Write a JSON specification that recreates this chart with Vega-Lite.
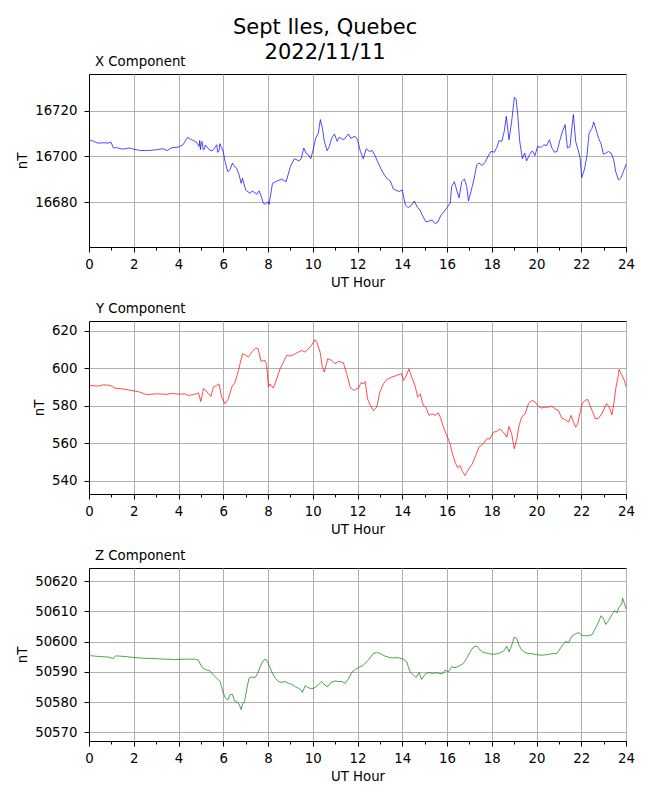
{
  "$schema": "https://vega.github.io/schema/vega-lite/v6.json",
  "padding": {"left": 15, "top": 17, "right": 5, "bottom": 5},
  "title": {
    "text": ["Sept Iles, Quebec", "2022/11/11"],
    "fontSize": 21,
    "lineHeight": 25,
    "fontWeight": "normal",
    "anchor": "middle",
    "frame": "bounds",
    "dx": 0,
    "offset": -9,
    "color": "black"
  },
  "config": {
    "font": "DejaVu Sans",
    "view": {"stroke": "black", "strokeWidth": 1},
    "axis": {
      "domainColor": "black",
      "tickColor": "black",
      "labelColor": "black",
      "titleColor": "black",
      "labelFontSize": 13.3,
      "titleFontSize": 13.3,
      "titleFontWeight": "normal",
      "gridColor": "#b0b0b0",
      "gridWidth": 1,
      "tickSize": 5
    },
    "axisX": {"labelPadding": 5, "titlePadding": 5},
    "axisY": {"labelPadding": 7, "titlePadding": 5}
  },
  "datasets": {
    "xc": [
      {"h": 0, "v": 16707.3}, {"h": 0.22, "v": 16706.6}, {"h": 0.4, "v": 16705.8}, {"h": 0.67, "v": 16706.0},
      {"h": 0.86, "v": 16705.8}, {"h": 0.98, "v": 16706.3}, {"h": 1.09, "v": 16703.7}, {"h": 1.21, "v": 16703.9},
      {"h": 1.5, "v": 16703.2}, {"h": 1.8, "v": 16703.7}, {"h": 2.0, "v": 16703.2}, {"h": 2.3, "v": 16702.6},
      {"h": 2.59, "v": 16702.6}, {"h": 3.0, "v": 16702.9}, {"h": 3.29, "v": 16703.4}, {"h": 3.49, "v": 16702.6},
      {"h": 3.7, "v": 16703.8}, {"h": 4.0, "v": 16704.1}, {"h": 4.2, "v": 16705.1}, {"h": 4.4, "v": 16708.3},
      {"h": 4.59, "v": 16707.3}, {"h": 4.8, "v": 16706.3}, {"h": 4.92, "v": 16704.4}, {"h": 4.95, "v": 16707.0},
      {"h": 4.98, "v": 16703.0}, {"h": 5.02, "v": 16705.8}, {"h": 5.05, "v": 16706.5}, {"h": 5.11, "v": 16702.9},
      {"h": 5.15, "v": 16703.2}, {"h": 5.2, "v": 16705.0}, {"h": 5.31, "v": 16703.7}, {"h": 5.4, "v": 16702.8},
      {"h": 5.51, "v": 16702.5}, {"h": 5.6, "v": 16703.5}, {"h": 5.71, "v": 16705.1}, {"h": 5.75, "v": 16701.8},
      {"h": 5.81, "v": 16702.5}, {"h": 5.85, "v": 16705.6}, {"h": 5.9, "v": 16704.4}, {"h": 6.0, "v": 16702.2},
      {"h": 6.08, "v": 16697.8}, {"h": 6.2, "v": 16693.4}, {"h": 6.3, "v": 16694.2}, {"h": 6.41, "v": 16697.1},
      {"h": 6.5, "v": 16695.6}, {"h": 6.6, "v": 16694.9}, {"h": 6.71, "v": 16692.0}, {"h": 6.8, "v": 16688.3},
      {"h": 6.86, "v": 16690.5}, {"h": 7.0, "v": 16685.4}, {"h": 7.2, "v": 16683.9}, {"h": 7.3, "v": 16685.0},
      {"h": 7.5, "v": 16683.5}, {"h": 7.6, "v": 16685.0}, {"h": 7.69, "v": 16682.9}, {"h": 7.79, "v": 16679.6},
      {"h": 7.88, "v": 16679.1}, {"h": 8.0, "v": 16680.3}, {"h": 8.05, "v": 16679.1}, {"h": 8.2, "v": 16688.3},
      {"h": 8.41, "v": 16689.3}, {"h": 8.61, "v": 16690.1}, {"h": 8.81, "v": 16689.0}, {"h": 9.0, "v": 16695.6},
      {"h": 9.18, "v": 16699.0}, {"h": 9.39, "v": 16698.1}, {"h": 9.48, "v": 16699.0}, {"h": 9.6, "v": 16703.7},
      {"h": 9.7, "v": 16701.5}, {"h": 9.81, "v": 16700.7}, {"h": 9.91, "v": 16699.0}, {"h": 10.03, "v": 16703.4},
      {"h": 10.13, "v": 16708.0}, {"h": 10.25, "v": 16710.2}, {"h": 10.34, "v": 16716.1}, {"h": 10.43, "v": 16712.4},
      {"h": 10.52, "v": 16706.6}, {"h": 10.64, "v": 16702.5}, {"h": 10.74, "v": 16704.4}, {"h": 10.85, "v": 16708.0},
      {"h": 10.97, "v": 16709.8}, {"h": 11.09, "v": 16706.6}, {"h": 11.18, "v": 16708.3}, {"h": 11.39, "v": 16707.3},
      {"h": 11.59, "v": 16709.8}, {"h": 11.7, "v": 16708.0}, {"h": 11.89, "v": 16708.8}, {"h": 12.0, "v": 16707.3},
      {"h": 12.13, "v": 16702.2}, {"h": 12.26, "v": 16699.0}, {"h": 12.39, "v": 16703.4}, {"h": 12.53, "v": 16702.2},
      {"h": 12.66, "v": 16702.6}, {"h": 12.8, "v": 16700.0}, {"h": 12.93, "v": 16697.1}, {"h": 13.07, "v": 16694.2},
      {"h": 13.2, "v": 16692.0}, {"h": 13.33, "v": 16690.2}, {"h": 13.47, "v": 16689.3}, {"h": 13.6, "v": 16685.8},
      {"h": 13.86, "v": 16684.7}, {"h": 14.0, "v": 16685.4}, {"h": 14.06, "v": 16682.5}, {"h": 14.14, "v": 16678.8},
      {"h": 14.27, "v": 16677.7}, {"h": 14.39, "v": 16678.5}, {"h": 14.54, "v": 16680.6}, {"h": 14.66, "v": 16678.1},
      {"h": 14.79, "v": 16676.6}, {"h": 14.93, "v": 16673.7}, {"h": 15.06, "v": 16671.5}, {"h": 15.2, "v": 16671.8},
      {"h": 15.33, "v": 16672.3}, {"h": 15.47, "v": 16670.7}, {"h": 15.6, "v": 16671.5}, {"h": 15.73, "v": 16674.4},
      {"h": 15.87, "v": 16675.9}, {"h": 16.0, "v": 16677.7}, {"h": 16.14, "v": 16679.6}, {"h": 16.21, "v": 16686.9},
      {"h": 16.33, "v": 16689.0}, {"h": 16.43, "v": 16685.4}, {"h": 16.54, "v": 16682.0}, {"h": 16.66, "v": 16689.0},
      {"h": 16.78, "v": 16690.2}, {"h": 16.88, "v": 16686.9}, {"h": 16.96, "v": 16680.6}, {"h": 17.07, "v": 16684.7},
      {"h": 17.19, "v": 16689.3}, {"h": 17.33, "v": 16696.4}, {"h": 17.43, "v": 16697.1}, {"h": 17.58, "v": 16696.1},
      {"h": 17.7, "v": 16697.5}, {"h": 17.83, "v": 16700.0}, {"h": 17.97, "v": 16702.2}, {"h": 18.12, "v": 16701.9},
      {"h": 18.22, "v": 16703.9}, {"h": 18.33, "v": 16706.9}, {"h": 18.45, "v": 16706.6}, {"h": 18.56, "v": 16711.0},
      {"h": 18.65, "v": 16717.5}, {"h": 18.77, "v": 16707.3}, {"h": 18.89, "v": 16715.3}, {"h": 19.01, "v": 16725.8},
      {"h": 19.09, "v": 16724.8}, {"h": 19.16, "v": 16718.3}, {"h": 19.25, "v": 16706.6}, {"h": 19.37, "v": 16699.0},
      {"h": 19.47, "v": 16701.5}, {"h": 19.56, "v": 16698.1}, {"h": 19.7, "v": 16701.0}, {"h": 19.82, "v": 16702.5},
      {"h": 19.93, "v": 16700.4}, {"h": 20.05, "v": 16704.4}, {"h": 20.2, "v": 16703.9}, {"h": 20.32, "v": 16705.1},
      {"h": 20.46, "v": 16704.8}, {"h": 20.58, "v": 16707.3}, {"h": 20.68, "v": 16703.9}, {"h": 20.8, "v": 16701.9},
      {"h": 20.92, "v": 16702.2}, {"h": 21.04, "v": 16706.9}, {"h": 21.16, "v": 16711.0}, {"h": 21.28, "v": 16713.9},
      {"h": 21.38, "v": 16703.7}, {"h": 21.5, "v": 16704.4}, {"h": 21.57, "v": 16711.7}, {"h": 21.65, "v": 16718.3},
      {"h": 21.75, "v": 16706.6}, {"h": 21.87, "v": 16702.5}, {"h": 21.95, "v": 16699.3}, {"h": 22.02, "v": 16690.8},
      {"h": 22.14, "v": 16694.2}, {"h": 22.25, "v": 16700.0}, {"h": 22.35, "v": 16710.2}, {"h": 22.47, "v": 16712.1},
      {"h": 22.56, "v": 16715.0}, {"h": 22.68, "v": 16711.2}, {"h": 22.77, "v": 16708.0}, {"h": 22.89, "v": 16705.4},
      {"h": 22.99, "v": 16701.0}, {"h": 23.1, "v": 16701.5}, {"h": 23.22, "v": 16702.2}, {"h": 23.33, "v": 16701.5},
      {"h": 23.44, "v": 16699.0}, {"h": 23.54, "v": 16693.4}, {"h": 23.66, "v": 16689.8}, {"h": 23.78, "v": 16690.8},
      {"h": 23.88, "v": 16693.4}, {"h": 24.0, "v": 16696.6}
    ],
    "yc": [
      {"h": 0, "v": 590.75}, {"h": 0.42, "v": 590.4}, {"h": 0.64, "v": 591.1}, {"h": 0.94, "v": 590.75},
      {"h": 1.16, "v": 589.3}, {"h": 1.46, "v": 589.0}, {"h": 1.98, "v": 587.9}, {"h": 2.28, "v": 587.2},
      {"h": 2.58, "v": 585.8}, {"h": 3.02, "v": 586.3}, {"h": 3.47, "v": 586.0}, {"h": 3.7, "v": 586.5},
      {"h": 4.0, "v": 586.1}, {"h": 4.29, "v": 586.3}, {"h": 4.44, "v": 585.4}, {"h": 4.74, "v": 586.1},
      {"h": 4.89, "v": 586.8}, {"h": 5.0, "v": 582.2}, {"h": 5.11, "v": 589.0}, {"h": 5.22, "v": 588.1},
      {"h": 5.34, "v": 586.3}, {"h": 5.45, "v": 584.9}, {"h": 5.56, "v": 589.9}, {"h": 5.71, "v": 590.75},
      {"h": 5.81, "v": 591.6}, {"h": 5.93, "v": 584.5}, {"h": 6.08, "v": 581.0}, {"h": 6.23, "v": 583.6},
      {"h": 6.38, "v": 589.9}, {"h": 6.53, "v": 592.5}, {"h": 6.68, "v": 598.8}, {"h": 6.86, "v": 607.6},
      {"h": 6.97, "v": 607.1}, {"h": 7.12, "v": 605.9}, {"h": 7.27, "v": 608.5}, {"h": 7.45, "v": 610.8},
      {"h": 7.56, "v": 610.3}, {"h": 7.69, "v": 603.6}, {"h": 7.87, "v": 604.1}, {"h": 7.94, "v": 601.4},
      {"h": 8.02, "v": 589.9}, {"h": 8.09, "v": 591.6}, {"h": 8.24, "v": 589.3}, {"h": 8.39, "v": 594.3},
      {"h": 8.54, "v": 599.6}, {"h": 8.69, "v": 603.2}, {"h": 8.84, "v": 606.8}, {"h": 8.99, "v": 606.4},
      {"h": 9.14, "v": 607.1}, {"h": 9.36, "v": 608.5}, {"h": 9.51, "v": 609.4}, {"h": 9.66, "v": 608.5},
      {"h": 9.81, "v": 610.3}, {"h": 9.96, "v": 612.4}, {"h": 10.1, "v": 615.1}, {"h": 10.18, "v": 613.9},
      {"h": 10.33, "v": 608.5}, {"h": 10.43, "v": 600.5}, {"h": 10.52, "v": 597.9}, {"h": 10.67, "v": 605.0},
      {"h": 10.85, "v": 604.1}, {"h": 11.0, "v": 602.3}, {"h": 11.15, "v": 603.6}, {"h": 11.37, "v": 602.8},
      {"h": 11.52, "v": 597.0}, {"h": 11.67, "v": 589.9}, {"h": 11.82, "v": 588.1}, {"h": 11.97, "v": 589.0},
      {"h": 12.04, "v": 589.3}, {"h": 12.16, "v": 592.2}, {"h": 12.26, "v": 591.6}, {"h": 12.34, "v": 592.9},
      {"h": 12.45, "v": 583.6}, {"h": 12.56, "v": 580.4}, {"h": 12.71, "v": 577.4}, {"h": 12.86, "v": 579.2},
      {"h": 13.0, "v": 587.2}, {"h": 13.16, "v": 591.6}, {"h": 13.3, "v": 593.8}, {"h": 13.53, "v": 595.2},
      {"h": 13.75, "v": 596.1}, {"h": 13.97, "v": 597.0}, {"h": 14.05, "v": 593.4}, {"h": 14.15, "v": 595.2},
      {"h": 14.3, "v": 599.6}, {"h": 14.42, "v": 595.2}, {"h": 14.57, "v": 590.75}, {"h": 14.69, "v": 584.5},
      {"h": 14.8, "v": 586.3}, {"h": 14.94, "v": 580.1}, {"h": 15.05, "v": 579.2}, {"h": 15.2, "v": 574.8},
      {"h": 15.34, "v": 575.6}, {"h": 15.47, "v": 574.8}, {"h": 15.61, "v": 576.2}, {"h": 15.73, "v": 573.0},
      {"h": 15.84, "v": 568.5}, {"h": 15.99, "v": 564.1}, {"h": 16.14, "v": 559.6}, {"h": 16.24, "v": 554.3},
      {"h": 16.36, "v": 549.9}, {"h": 16.48, "v": 546.8}, {"h": 16.58, "v": 548.1}, {"h": 16.69, "v": 544.9},
      {"h": 16.81, "v": 542.7}, {"h": 16.93, "v": 545.4}, {"h": 17.03, "v": 547.2}, {"h": 17.13, "v": 549.0},
      {"h": 17.28, "v": 553.4}, {"h": 17.43, "v": 557.9}, {"h": 17.62, "v": 559.6}, {"h": 17.77, "v": 562.3},
      {"h": 17.92, "v": 562.3}, {"h": 18.07, "v": 565.9}, {"h": 18.22, "v": 566.2}, {"h": 18.37, "v": 567.6},
      {"h": 18.52, "v": 565.9}, {"h": 18.67, "v": 563.2}, {"h": 18.77, "v": 568.9}, {"h": 18.89, "v": 565.0},
      {"h": 19.01, "v": 557.0}, {"h": 19.12, "v": 562.3}, {"h": 19.22, "v": 569.4}, {"h": 19.34, "v": 573.9},
      {"h": 19.49, "v": 575.6}, {"h": 19.64, "v": 581.0}, {"h": 19.79, "v": 582.8}, {"h": 19.94, "v": 581.9},
      {"h": 20.08, "v": 579.6}, {"h": 20.23, "v": 578.7}, {"h": 20.38, "v": 579.2}, {"h": 20.53, "v": 579.2},
      {"h": 20.68, "v": 579.7}, {"h": 20.83, "v": 578.3}, {"h": 20.98, "v": 577.4}, {"h": 21.13, "v": 573.3},
      {"h": 21.27, "v": 572.6}, {"h": 21.43, "v": 571.2}, {"h": 21.55, "v": 574.8}, {"h": 21.65, "v": 571.2},
      {"h": 21.75, "v": 568.5}, {"h": 21.84, "v": 570.3}, {"h": 21.95, "v": 576.5}, {"h": 22.05, "v": 581.0},
      {"h": 22.17, "v": 582.8}, {"h": 22.29, "v": 583.3}, {"h": 22.39, "v": 580.1}, {"h": 22.5, "v": 576.9},
      {"h": 22.63, "v": 573.0}, {"h": 22.77, "v": 573.3}, {"h": 22.92, "v": 575.6}, {"h": 23.07, "v": 579.7},
      {"h": 23.14, "v": 581.0}, {"h": 23.25, "v": 579.2}, {"h": 23.37, "v": 575.1}, {"h": 23.44, "v": 579.7},
      {"h": 23.54, "v": 589.0}, {"h": 23.63, "v": 594.3}, {"h": 23.69, "v": 599.3}, {"h": 23.81, "v": 596.4},
      {"h": 23.93, "v": 593.4}, {"h": 24.0, "v": 590.2}
    ],
    "zc": [
      {"h": 0, "v": 50595.4}, {"h": 0.42, "v": 50595.1}, {"h": 0.86, "v": 50594.9}, {"h": 1.09, "v": 50594.4},
      {"h": 1.19, "v": 50595.3}, {"h": 1.61, "v": 50595.1}, {"h": 2.06, "v": 50594.7}, {"h": 2.5, "v": 50594.5},
      {"h": 2.95, "v": 50594.4}, {"h": 3.4, "v": 50594.2}, {"h": 3.85, "v": 50594.1}, {"h": 4.29, "v": 50594.2},
      {"h": 4.74, "v": 50594.2}, {"h": 4.89, "v": 50593.9}, {"h": 5.0, "v": 50592.2}, {"h": 5.11, "v": 50591.1},
      {"h": 5.26, "v": 50590.6}, {"h": 5.41, "v": 50590.3}, {"h": 5.56, "v": 50589.0}, {"h": 5.71, "v": 50587.9},
      {"h": 5.86, "v": 50586.8}, {"h": 5.96, "v": 50584.0}, {"h": 6.08, "v": 50581.5}, {"h": 6.2, "v": 50580.7},
      {"h": 6.3, "v": 50582.4}, {"h": 6.41, "v": 50582.6}, {"h": 6.5, "v": 50580.4}, {"h": 6.6, "v": 50580.2},
      {"h": 6.71, "v": 50579.3}, {"h": 6.8, "v": 50577.5}, {"h": 6.86, "v": 50579.3}, {"h": 6.95, "v": 50580.2},
      {"h": 7.06, "v": 50584.6}, {"h": 7.15, "v": 50587.9}, {"h": 7.27, "v": 50588.3}, {"h": 7.42, "v": 50588.1},
      {"h": 7.54, "v": 50589.5}, {"h": 7.65, "v": 50591.7}, {"h": 7.75, "v": 50593.3}, {"h": 7.84, "v": 50594.1},
      {"h": 7.94, "v": 50593.9}, {"h": 8.05, "v": 50592.2}, {"h": 8.17, "v": 50590.0}, {"h": 8.32, "v": 50587.9},
      {"h": 8.47, "v": 50586.8}, {"h": 8.61, "v": 50586.5}, {"h": 8.76, "v": 50586.8}, {"h": 8.91, "v": 50586.2},
      {"h": 9.06, "v": 50585.9}, {"h": 9.21, "v": 50585.1}, {"h": 9.36, "v": 50584.6}, {"h": 9.48, "v": 50584.0},
      {"h": 9.54, "v": 50583.2}, {"h": 9.66, "v": 50585.4}, {"h": 9.78, "v": 50584.8}, {"h": 9.96, "v": 50584.4},
      {"h": 10.1, "v": 50584.8}, {"h": 10.25, "v": 50585.7}, {"h": 10.4, "v": 50586.8}, {"h": 10.52, "v": 50585.7},
      {"h": 10.67, "v": 50585.1}, {"h": 10.82, "v": 50586.5}, {"h": 11.0, "v": 50587.0}, {"h": 11.15, "v": 50586.8},
      {"h": 11.3, "v": 50586.8}, {"h": 11.45, "v": 50586.2}, {"h": 11.59, "v": 50587.6}, {"h": 11.74, "v": 50589.8},
      {"h": 11.92, "v": 50590.9}, {"h": 12.04, "v": 50591.4}, {"h": 12.26, "v": 50592.2}, {"h": 12.48, "v": 50593.9},
      {"h": 12.71, "v": 50596.1}, {"h": 12.86, "v": 50596.4}, {"h": 13.01, "v": 50596.1}, {"h": 13.23, "v": 50595.2},
      {"h": 13.53, "v": 50594.6}, {"h": 13.83, "v": 50594.7}, {"h": 14.05, "v": 50594.2}, {"h": 14.2, "v": 50593.3},
      {"h": 14.35, "v": 50590.0}, {"h": 14.5, "v": 50588.9}, {"h": 14.62, "v": 50588.1}, {"h": 14.75, "v": 50589.8},
      {"h": 14.87, "v": 50587.5}, {"h": 15.02, "v": 50589.2}, {"h": 15.17, "v": 50589.8}, {"h": 15.35, "v": 50589.5},
      {"h": 15.55, "v": 50589.7}, {"h": 15.8, "v": 50589.3}, {"h": 15.91, "v": 50590.6}, {"h": 16.06, "v": 50590.0},
      {"h": 16.21, "v": 50591.7}, {"h": 16.36, "v": 50591.4}, {"h": 16.54, "v": 50591.9}, {"h": 16.73, "v": 50592.8},
      {"h": 16.88, "v": 50594.4}, {"h": 17.03, "v": 50596.6}, {"h": 17.18, "v": 50598.2}, {"h": 17.33, "v": 50598.6},
      {"h": 17.48, "v": 50597.2}, {"h": 17.63, "v": 50596.4}, {"h": 17.85, "v": 50596.1}, {"h": 18.07, "v": 50595.8},
      {"h": 18.3, "v": 50596.1}, {"h": 18.52, "v": 50596.8}, {"h": 18.67, "v": 50598.5}, {"h": 18.77, "v": 50596.6},
      {"h": 18.89, "v": 50598.8}, {"h": 19.01, "v": 50601.5}, {"h": 19.12, "v": 50601.0}, {"h": 19.22, "v": 50598.8},
      {"h": 19.34, "v": 50597.2}, {"h": 19.49, "v": 50596.4}, {"h": 19.64, "v": 50596.1}, {"h": 19.79, "v": 50596.0},
      {"h": 20.01, "v": 50595.7}, {"h": 20.23, "v": 50595.5}, {"h": 20.46, "v": 50595.7}, {"h": 20.68, "v": 50596.0},
      {"h": 20.91, "v": 50596.1}, {"h": 21.06, "v": 50597.7}, {"h": 21.21, "v": 50599.3}, {"h": 21.31, "v": 50600.1},
      {"h": 21.43, "v": 50599.7}, {"h": 21.59, "v": 50601.9}, {"h": 21.74, "v": 50602.6}, {"h": 21.89, "v": 50603.0},
      {"h": 22.04, "v": 50602.1}, {"h": 22.26, "v": 50601.9}, {"h": 22.48, "v": 50602.3}, {"h": 22.63, "v": 50604.3},
      {"h": 22.77, "v": 50606.5}, {"h": 22.89, "v": 50608.6}, {"h": 23.0, "v": 50607.5}, {"h": 23.1, "v": 50605.7},
      {"h": 23.22, "v": 50607.0}, {"h": 23.37, "v": 50608.9}, {"h": 23.49, "v": 50610.3}, {"h": 23.59, "v": 50609.5},
      {"h": 23.69, "v": 50611.4}, {"h": 23.81, "v": 50612.5}, {"h": 23.85, "v": 50614.4}, {"h": 23.96, "v": 50611.9},
      {"h": 24.0, "v": 50610.8}
    ]
  },
  "spacing": 11,
  "resolve": {"scale": {"x": "independent", "y": "independent"}},
  "vconcat": [
    {
      "title": {"text": "X Component", "anchor": "start", "fontSize": 13.3, "fontWeight": "normal", "dx": 6, "offset": 6, "frame": "group", "color": "black"},
      "width": 537,
      "height": 173,
      "data": {"name": "xc"},
      "mark": {"type": "line", "color": "#0000ff", "strokeWidth": 0.7},
      "encoding": {
        "x": {
          "field": "h", "type": "quantitative",
          "scale": {"domain": [0, 24], "nice": false, "zero": false},
          "axis": {
            "title": "UT Hour",
            "values": [0, 1, 2, 3, 4, 5, 6, 7, 8, 9, 10, 11, 12, 13, 14, 15, 16, 17, 18, 19, 20, 21, 22, 23, 24],
            "labelExpr": "datum.value % 2 === 0 ? datum.label : ''",
            "labelFlush": false,
            "labelOverlap": false,
            "tickSize": {"condition": {"test": "datum.value % 2 === 0", "value": 5}, "value": 3},
            "gridOpacity": {"condition": {"test": "datum.value % 2 === 0", "value": 1}, "value": 0}
          }
        },
        "y": {
          "field": "v", "type": "quantitative",
          "scale": {"domain": [16660.5, 16736], "nice": false, "zero": false},
          "axis": {"title": "nT", "values": [16680, 16700, 16720], "format": "d"}
        }
      }
    },
    {
      "title": {"text": "Y Component", "anchor": "start", "fontSize": 13.3, "fontWeight": "normal", "dx": 7, "offset": 6, "frame": "group", "color": "black"},
      "width": 537,
      "height": 173,
      "data": {"name": "yc"},
      "mark": {"type": "line", "color": "#ff0000", "strokeWidth": 0.7},
      "encoding": {
        "x": {
          "field": "h", "type": "quantitative",
          "scale": {"domain": [0, 24], "nice": false, "zero": false},
          "axis": {
            "title": "UT Hour",
            "values": [0, 1, 2, 3, 4, 5, 6, 7, 8, 9, 10, 11, 12, 13, 14, 15, 16, 17, 18, 19, 20, 21, 22, 23, 24],
            "labelExpr": "datum.value % 2 === 0 ? datum.label : ''",
            "labelFlush": false,
            "labelOverlap": false,
            "tickSize": {"condition": {"test": "datum.value % 2 === 0", "value": 5}, "value": 3},
            "gridOpacity": {"condition": {"test": "datum.value % 2 === 0", "value": 1}, "value": 0}
          }
        },
        "y": {
          "field": "v", "type": "quantitative",
          "scale": {"domain": [532.9, 625.1], "nice": false, "zero": false},
          "axis": {"title": "nT", "values": [540, 560, 580, 600, 620], "format": "d"}
        }
      }
    },
    {
      "title": {"text": "Z Component", "anchor": "start", "fontSize": 13.3, "fontWeight": "normal", "dx": 6, "offset": 6, "frame": "group", "color": "black"},
      "width": 537,
      "height": 173,
      "data": {"name": "zc"},
      "mark": {"type": "line", "color": "#008000", "strokeWidth": 0.7},
      "encoding": {
        "x": {
          "field": "h", "type": "quantitative",
          "scale": {"domain": [0, 24], "nice": false, "zero": false},
          "axis": {
            "title": "UT Hour",
            "values": [0, 1, 2, 3, 4, 5, 6, 7, 8, 9, 10, 11, 12, 13, 14, 15, 16, 17, 18, 19, 20, 21, 22, 23, 24],
            "labelExpr": "datum.value % 2 === 0 ? datum.label : ''",
            "labelFlush": false,
            "labelOverlap": false,
            "tickSize": {"condition": {"test": "datum.value % 2 === 0", "value": 5}, "value": 3},
            "gridOpacity": {"condition": {"test": "datum.value % 2 === 0", "value": 1}, "value": 0}
          }
        },
        "y": {
          "field": "v", "type": "quantitative",
          "scale": {"domain": [50567.1, 50624.4], "nice": false, "zero": false},
          "axis": {"title": "nT", "values": [50570, 50580, 50590, 50600, 50610, 50620], "format": "d"}
        }
      }
    }
  ]
}
